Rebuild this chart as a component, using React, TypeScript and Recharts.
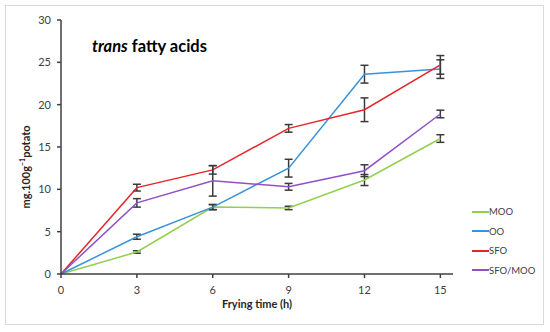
import React from 'react';
import { LineChart, Line, XAxis, YAxis, ErrorBar } from 'recharts';

const times = [0, 3, 6, 9, 12, 15];
const moo = [0, 2.6, 7.9, 7.8, 11.1, 16.0];
const oo = [0, 4.4, 7.9, 12.5, 23.6, 24.2];
const sfo = [0, 10.2, 12.3, 17.2, 19.4, 24.7];
const sfoMoo = [0, 8.4, 11.0, 10.3, 12.2, 18.9];

const mooErr = [null, 0.15, 0.3, 0.2, 0.65, 0.45];
const ooErr = [null, 0.3, 0.3, 1.05, 1.05, 1.1];
const sfoErr = [null, 0.4, 0.5, 0.45, 1.4, 1.1];
const sfoMooErr = [null, 0.5, 1.8, 0.4, 0.7, 0.45];

const yTicks = [0, 5, 10, 15, 20, 25, 30];
const xTicks = [0, 3, 6, 9, 12, 15];

const series = [
	{ key: 'MOO', err: 'MOOerr', color: '#92d050' },
	{ key: 'OO', err: 'OOerr', color: '#3a93d8' },
	{ key: 'SFO', err: 'SFOerr', color: '#e5262c' },
	{ key: 'SFO/MOO', err: 'SFO/MOOerr', color: '#9150c8' },
];

const data = times.map((t, i) => ({
	time: t,
	MOO: moo[i],
	OO: oo[i],
	SFO: sfo[i],
	'SFO/MOO': sfoMoo[i],
	MOOerr: mooErr[i],
	OOerr: ooErr[i],
	SFOerr: sfoErr[i],
	'SFO/MOOerr': sfoMooErr[i],
}));

const font = 'Lato, "Open Sans", sans-serif';
const axisColor = '#404040';

const App: React.FC = () => {
	return (
		<div style={{ position: 'absolute', left: 0, top: 0, width: 550, height: 332, background: '#fff' }}>
			<div
				style={{
					position: 'absolute',
					left: 5,
					top: 5,
					width: 537,
					height: 318,
					border: '1px solid #d9d9d9',
				}}
			/>
			<LineChart width={550} height={332} data={data} margin={{ top: 20, right: 97, bottom: 0, left: 8 }}>
				<XAxis
					dataKey="time"
					type="number"
					domain={[0, 15.5]}
					ticks={xTicks}
					tickSize={4}
					tickMargin={8}
					height={58}
					stroke={axisColor}
					strokeWidth={1.5}
					tick={{ fill: '#404040', fontSize: 11, fontFamily: font }}
				/>
				<YAxis
					type="number"
					domain={[0, 30]}
					ticks={yTicks}
					tickSize={4}
					tickMargin={6}
					width={53}
					stroke={axisColor}
					strokeWidth={1.5}
					tick={{ fill: '#404040', fontSize: 11, fontFamily: font }}
				/>
				{series.map((s) => (
					<Line
						key={s.key}
						dataKey={s.key}
						stroke={s.color}
						strokeWidth={1.5}
						dot={false}
						activeDot={false}
						isAnimationActive={false}
					>
						<ErrorBar dataKey={s.err} width={4} stroke="#3a3a3a" strokeWidth={1.5} isAnimationActive={false} />
					</Line>
				))}
			</LineChart>
			{/* legend */}
			<div style={{ position: 'absolute', left: 472, top: 202, fontFamily: font, fontSize: 9.5, color: '#404040' }}>
				{series.map((s) => (
					<div key={s.key} style={{ display: 'flex', alignItems: 'center', height: 19.5 }}>
						<span style={{ display: 'inline-block', width: 17, borderTop: `2px solid ${s.color}` }} />
						<span>{s.key}</span>
					</div>
				))}
			</div>
			<div
				style={{
					position: 'absolute',
					left: 92,
					top: 36,
					fontFamily: font,
					fontWeight: 700,
					fontSize: 16.5,
					color: '#000',
					whiteSpace: 'nowrap',
				}}
			>
				<i>trans</i> fatty acids
			</div>
			<div
				style={{
					position: 'absolute',
					left: 257,
					top: 297,
					transform: 'translateX(-50%)',
					fontFamily: font,
					fontWeight: 700,
					fontSize: 11,
					color: '#262626',
					whiteSpace: 'nowrap',
				}}
			>
				Frying time (h)
			</div>
			<div
				style={{
					position: 'absolute',
					left: 25,
					top: 167,
					transform: 'translate(-50%, -50%) rotate(-90deg)',
					fontFamily: font,
					fontWeight: 700,
					fontSize: 11,
					color: '#262626',
					whiteSpace: 'nowrap',
				}}
			>
				mg.100g<sup style={{ fontSize: 7 }}>−1</sup>potato
			</div>
		</div>
	);
};

export default App;
